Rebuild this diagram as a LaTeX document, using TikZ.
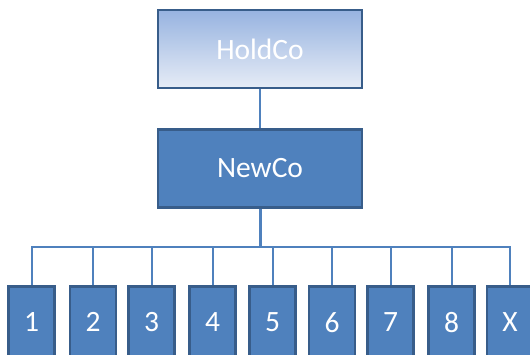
\documentclass[tikz,border=0pt]{standalone}
\usepackage{fontspec}
\setmainfont{Carlito}
\definecolor{unitfill}{HTML}{4F81BD}
\definecolor{unitline}{HTML}{385D8A}
\definecolor{holdtop}{HTML}{97B3E0}
\definecolor{holdbot}{HTML}{E6ECF6}
\definecolor{wire}{HTML}{4F81BD}
\begin{document}
\begin{tikzpicture}[x=1pt,y=-1pt,
  unit/.style={draw=unitline, line width=2.5pt, fill=unitfill, text=white,
    font=\fontsize{29.5}{33}\selectfont, inner sep=0pt},
  topbox/.style={unit, minimum width=204pt, minimum height=78pt},
  leaf/.style={unit, minimum width=46pt, minimum height=72pt},
  wire/.style={draw=wire, line width=2pt}]
\useasboundingbox (0,0) rectangle (530,354);
% parent companies
\node[topbox, fill=none, top color=holdtop, bottom color=holdbot] (hold) at (260,49) {HoldCo};
\node[topbox] (new) at (260,168.5) {NewCo};
% operating units, bottoms running off the page
\foreach \name/\cx in {1/31.5, 2/93, 3/151.5, 4/212.5, 5/272.5, 6/332, 7/390.5, 8/451.5, X/510}
  \node[leaf, anchor=north] (u\name) at (\cx,285) {\name};
% ownership lines
\coordinate (bus) at (260,247);
\draw[wire] (hold.south) -- (new.north);
\draw[wire, line width=3pt] (new.south) -- (bus);
\draw[wire] (u1.north) |- (bus) -| (uX.north);
\foreach \name in {2,3,4,5,6,7,8}
  \draw[wire] (u\name.north) -- (u\name.north |- bus);
\end{tikzpicture}
\end{document}
